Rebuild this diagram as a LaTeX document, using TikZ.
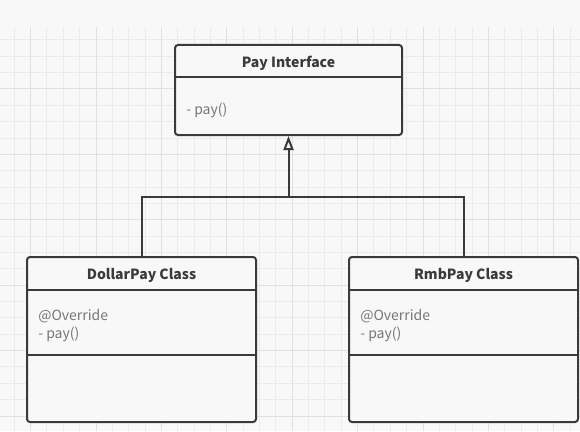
\documentclass[tikz,border=0pt]{standalone}
\usepackage{fontspec}
\setmainfont{Noto Sans CJK SC}
\usetikzlibrary{arrows.meta,positioning}
\definecolor{paper}{HTML}{F8F8F8}
\definecolor{gridminor}{HTML}{EBEBEB}
\definecolor{gridmajor}{HTML}{E0E0E0}
\definecolor{ink}{HTML}{3A3A3A}
\definecolor{note}{HTML}{767676}
\begin{document}
\begin{tikzpicture}[x=0.75pt,y=-0.75pt,
  umlbox/.style={draw=ink,fill=paper,line width=1.5pt,rounded corners=2.25pt,inner sep=0pt},
  title/.style={font=\bfseries\fontsize{10.5}{12}\selectfont,text=ink},
  member/.style={font=\fontsize{10.5}{13.5}\selectfont,text=note,align=left,anchor=west,inner sep=0pt},
  link/.style={draw=ink,line width=1.5pt}]
  \fill[paper] (0,0) rectangle (580,431);
  \useasboundingbox (0,0) rectangle (580,431);
  \begin{scope}
    \clip (0,27) rectangle (580,431);
    \foreach \k in {0,...,34}
      \draw[gridminor,line width=0.75pt] (14.25+16.35*\k,27) -- ++(0,404);
    \foreach \k in {0,...,24}
      \draw[gridminor,line width=0.75pt] (0,23.6+16.35*\k) -- ++(580,0);
    \foreach \k in {1,5,...,33}
      \draw[gridmajor,line width=0.75pt] (14.25+16.35*\k,27) -- ++(0,404);
    \foreach \k in {0,4,...,24}
      \draw[gridmajor,line width=0.75pt] (0,23.6+16.35*\k) -- ++(580,0);
  \end{scope}

  \node[umlbox,minimum width=170.25pt,minimum height=67.5pt] (pay) at (288.5,90) {};
  \draw[link] ([yshift=-24.75pt]pay.north west) -- ([yshift=-24.75pt]pay.north east);
  \node[title] (pay-title) at ([yshift=-14.75pt]pay.north) {Pay Interface};
  \node[member] (pay-ops) at ([xshift=9pt,yshift=-15.5pt]pay.west) {- pay()};

  \foreach \name/\cx/\titulo in {dollar/141.5/{DollarPay Class},rmb/463.5/{RmbPay Class}}{
    \node[umlbox,minimum width=171.75pt,minimum height=123.75pt] (\name) at (\cx,339.5) {};
    \draw[link] ([yshift=-25.5pt]\name.north west) -- ([yshift=-25.5pt]\name.north east);
    \draw[link] ([yshift=-74.25pt]\name.north west) -- ([yshift=-74.25pt]\name.north east);
    \node[title] (\name-title) at ([yshift=-14.75pt]\name.north) {\titulo};
    \node[member] (\name-ops) at ([xshift=9pt,yshift=-52.25pt]\name.north west) {@Override\\- pay()};
  }

  \coordinate (fork) at (288.5,197);
  \draw[link] (dollar.north) |- (fork) -| (rmb.north);
  \draw[link,-{Triangle[open,length=10.5pt,width=7.5pt]}] (fork) -- (pay.south);
\end{tikzpicture}
\end{document}
